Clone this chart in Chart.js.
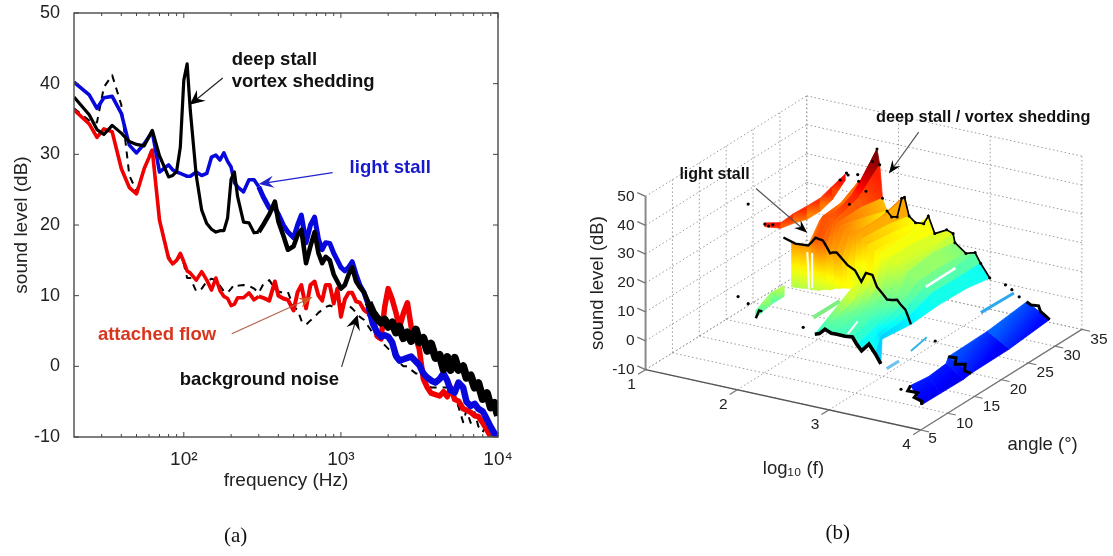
<!DOCTYPE html>
<html><head><meta charset="utf-8">
<style>html,body{margin:0;padding:0;background:#fff;width:1113px;height:556px;overflow:hidden}
canvas{position:absolute;top:0}</style>
<script src="https://cdn.jsdelivr.net/npm/chart.js@4/dist/chart.umd.js"></script>
</head><body>
<canvas id="a" width="540" height="556" style="left:0"></canvas>
<canvas id="b" width="573" height="556" style="left:540px"></canvas>
<script>
// ---------- (a) spectra ----------
const freqs=[20,25,28,31,35,40,45,50,56,63,70,80,85,90,95,100,105,110,120,130,140,150,160,170,180,190,200,210,220,240,260,280,300,320,350,380,400,430,460,500,530,560,600,640,680,720,760,800,850,900,950,1000,1060,1120,1180,1250,1320,1400,1500,1600,1700,1800,1900,2000,2120,2240,2360,2500,2650,2800,3000,3150,3350,3550,3750,4000,4250,4500,4750,5000,5300,5600,6000,6300,6700,7100,7500,8000,8500,9000,9500,10000];
const attachedFlow=[36.3,34.3,32.4,33.6,33.2,28,25.3,24.4,28,30.6,20.7,15.3,14.5,15,16,14.8,13.5,13.2,12.2,13.4,12.2,10.8,12.5,10.7,9.9,9.6,8.6,8.8,9.7,9.7,10.4,9.4,9.9,9.7,9.3,12,10,9.6,9.4,7.9,10.5,11.5,8.2,11.5,12,10,9.3,11.5,11.5,8.9,11,7,9.5,10.4,10.4,9.2,9,8,7.5,6.8,4.3,3.9,8.4,11,9.5,7.6,5.5,7.5,9,5.6,4,2.5,-1.8,-3,-3.8,-4,-4.2,-3.6,-4.3,-3,-4.7,-4.9,-6,-6.2,-6.5,-7,-7.1,-8,-9,-10,-10,-10];
const lightStall=[40.2,38.4,36.5,38,38.2,35.8,31.3,30.2,31.5,33.2,27.5,28.5,27.8,27.5,27.3,27.1,26.9,26.9,27.5,27,27.3,29.6,29.9,29.2,30.2,29,28.2,26,25.4,24.7,26.4,26.4,25.4,24,22.4,22.4,21.5,20,19,18.2,20,21.4,17.5,20,21.1,18,16.5,17.5,17.4,16,15,14,13.5,14,14.8,13,11.5,10.5,8.5,6,4.8,4.2,4.4,4.2,3.4,1.5,0.8,1,1.2,1.4,0.7,0.2,-1,-1.6,-2,-2.3,-1.8,-1,-2,-3.4,-3.7,-2.3,-3,-5,-5.6,-5.3,-6,-6.4,-7.5,-8.6,-9.5,-10];
const deepStall=[38.1,35.6,33.5,32.8,34.1,33,31.8,31.4,31.2,33.4,29.8,26.8,27,27.6,31,40.5,42.8,36.2,27,22.1,20.2,19.4,19,19.2,19.2,21,26.5,27.5,24,20.4,20.3,18.9,19,20,21.5,23.3,20.5,18.5,16.5,17,18.6,19.3,14.6,17,19,16,14.6,15.5,15,13,12,11,11.5,13,14,12,11.2,10.5,9,7.6,6.8,6.2,6.6,5.6,6.2,4.8,5.6,4,4.8,3.6,5.2,3.4,4,2.2,3.2,1.2,1.6,-0.4,1.3,-0.5,1.2,-0.5,0,-1.6,-1.3,-3,-2.4,-4.6,-3.8,-5.8,-5.2,-7];
const backgroundNoise=[36.5,34.8,34.5,39.5,41.2,37,27,24.8,28,31,21,15.5,14.8,15,15.5,14.5,12.5,12.5,10.6,11,12,12.4,12.2,11.4,10.6,10.4,11,11.6,11.4,11.5,11.4,11,10.4,11.6,12.2,11,10.6,10.4,10.5,8.4,8,6.5,5.9,6.5,7,7.6,8,8.4,8.6,8.4,8.6,8.8,8.9,8.6,8.2,7.6,7,6.6,5.6,4.7,4,3.8,3,2.5,2,1,0.5,0,0,-0.5,-1,-1,-2,-2.5,-3,-3,-3,-3,-3,-3,-4,-5.7,-7.9,-6.2,-8,-6.5,-8.5,-9.3,-8,-10,-10,-10];
const xMajor=[100,1000,10000];
const xMinor=[30,40,50,60,70,80,90,200,300,400,500,600,700,800,900,2000,3000,4000,5000,6000,7000,8000,9000];
const yTicks=[-10,0,10,20,30,40,50];
const xTickText={100:'10²',1000:'10³',10000:'10⁴'};
const labelsA=[
 {t:'deep stall',f:202,d:43.4,c:'#111',s:18.5},{t:'vortex shedding',f:202,d:40.2,c:'#111',s:18.5},
 {t:'light stall',f:1136,d:28.1,c:'#1818cc',s:18.5},{t:'attached flow',f:28.4,d:4.5,c:'#d8361c',s:18.5},
 {t:'background noise',f:94.3,d:-1.9,c:'#111',s:18.5}];
const arrowsA=[
 {f0:177,d0:40.8,f1:109,d1:37,c:'#222',hc:'#000',L:15,W:7},
 {f0:886,d0:27.4,f1:300,d1:25.8,c:'#2222cc',hc:'#2222cc',L:15,W:6},
 {f0:202,d0:4.6,f1:661,d1:9.8,c:'#b5604a',hc:'#d8561c',L:14,W:5},
 {f0:1010,d0:-0.07,f1:1277,d1:7.3,c:'#333',hc:'#000',L:15,W:7}];
// ---------- (b) surface rows: log10 f, sound level; one row per angle ----------
const row31L=[1.70,1.80,1.88,1.95,2.00,2.03,2.06,2.11,2.16,2.22,2.27,2.30,2.35,2.42,2.51,2.56,2.63,2.76,2.83,2.85,2.97,3.07,3.13,3.23];
const row31Z=[22,30.6,27.7,38.5,43.2,38,26.6,22.5,20.8,21.2,28,28.6,22.4,20.6,20.9,23.9,18.3,20.5,19.7,16.7,13.8,14.8,11.5,7.1];
const row27L=[1.78,1.84,1.90,1.95,2.00,2.03,2.06,2.11,2.16,2.22,2.27,2.30,2.35,2.42,2.51,2.56,2.63,2.76,2.83,2.85,2.97,3.07,3.13,3.21];
const row27Z=[25,28,28,31,33.5,31,28,25,24,24,26,26.5,24,22,21.5,22,19.5,19.5,19,18,14.5,14,11.5,8];
const row22L=[1.90,1.94,1.97,2.00,2.03,2.06,2.09,2.13,2.18,2.24,2.28,2.31,2.36,2.43,2.51,2.57,2.64,2.76,2.82,2.86,2.97,3.06,3.12,3.20];
const row22Z=[28,30,30,29.5,29.5,29,28.5,28,27,26.5,26,26,25,23.5,22,21.5,20,19,18.5,17,14.5,14,11.5,8];
const row17L=[2.07,2.11,2.15,2.19,2.23,2.27,2.31,2.34,2.38,2.44,2.50,2.58,2.65,2.70,2.77,2.82,2.88,2.93,2.98,3.04,3.08,3.13,3.16,3.19];
const row17Z=[26.5,28,29.8,29.6,29.4,27.5,25.5,26,26.3,24.5,22.7,21.5,18,21.4,21.2,17.4,15.5,13.8,14,14.5,13,11.7,9.5,7];
const row13L=[2.30,2.34,2.38,2.42,2.46,2.50,2.54,2.60,2.66,2.70,2.74,2.76,2.78,2.80,2.84,2.88,2.92,2.96,3.00,3.04,3.06,3.08,3.10,3.11];
const row13Z=[17.8,17.7,18,18,18.6,19,19,20,20.5,20.8,21,21.2,21.4,17,15,13.5,13,12.5,12,10,9,8,7,6];
const row8L=[2.67,2.72,2.78,2.85,2.91,3.00,3.08,3.13,3.18,3.26,3.33,3.39];
const row8Z=[10.4,11,12.9,12,12.1,12,12.3,10,8.2,11.1,8.2,5.2];
const flapTopL=[1.89,1.98,2.07], flapTopZ=[26.3,26.3,26.5];
const flapFootL=[2.12,2.22,2.30], flapFootZ=[17.2,17.5,17.8];
const light17HeadL=[1.80,1.93,2.07], light17HeadZ=[27.4,26.2,26.5];
const redUpperA=[12,15,17.3,19.9,22.3,24.6,26.9], redUpperZ=[38.9,35.5,35.9,35.6,35.5,37,38.4];
const redLowerZ=[37.6,33.6,32.6,31,31,32.4,36.2];
const redStripL=1.89;
const greenA=[5.1,7.9,10.3], greenUpperZ=[18.7,21.6,21.2], greenLowerZ=[16.3,17.5,17.5];
const greenStripL=2.197;
const greenEnd=[[2.197,5.1,16],[2.197,5.7,18],[2.197,6.3,17]];
const blueUpperA=[7.4,10.7,14,14.4,21.7,29], blueUpperZ=[0.9,0.1,0.8,2.7,3.1,4.8];
const blueLowerA=[5.2,8.7,13,14.4,21.5,29], blueLowerZ=[-1.5,-1.6,-1.7,-1.3,-1.1,0.4];
const blueUpperL=3.75, blueLowerL=4;
const blueEdges=[
 [[3.75,7.4,0.9],[3.8,6,1],[3.85,7,-0.5],[3.9,5.5,0],[3.95,6,-1.5],[4,5.2,-1.5]],
 [[3.75,14.4,2.7],[3.8,15,2],[3.85,14,1.3],[3.9,15,0.5],[3.95,14,-0.3],[4,14.4,-1.3]],
 [[3.75,29,4.8],[3.8,29,4],[3.85,29.5,3.5],[3.9,29,2.5],[3.95,29,1.5],[4,29,0.4]]];
const wisps=[
 {p:[[3.49,24.9,4],[3.54,30.2,5]],c:'#2fa8ee',w:3},
 {p:[[3.46,12.4,5],[3.41,16.2,5]],c:'#35b4e8',w:2},
 {p:[[3.53,6.7,6],[3.53,9,6]],c:'#6cc4ee',w:3},
 {p:[[2.8,5.5,20],[2.8,10.4,20]],c:'#7dee80',w:4}];
const gaps=[
 [[3.06,22,13.3],[3.06,27.5,13.4]],
 [[2.09,16.5,25],[2.11,16.5,12]],
 [[2.143,16.5,25],[2.143,16.5,12.9]],
 [[2.91,10,9.8],[3.02,10,15]]];
const strayDots=[[1.24,20,31.6],[1.13,20,-1.2],[1.24,20,-2.9],[1.84,20,-6.9],[3.28,20,-1.6],[3.61,8,-2.1],[1.79,31,32.9],[3.43,30.5,6.7],[3.58,30.5,3.6],[3.5,30.5,5.5],[1.89,12,38.5],[1.89,13.5,36.5],[1.89,12.7,37],[1.89,26,37.5],[1.89,27.2,38.5],[1.89,27.5,37.5]];
const zTicks=[-10,0,10,20,30,40,50], lTicks=[1,2,3,4], aTicks=[5,10,15,20,25,30,35];
const labelsB=[
 {t:'light stall',p:[0.49,20,36.5],s:16,b:1,al:'left'},
 {t:'deep stall / vortex shedding',p:[1.99,31,54.1],s:16.3,b:1,al:'left'},
 {t:'sound level (dB)',p:[0.484,5,16.4],s:18.5,rot:1,al:'center'},
 {t:'log₁₀ (f)',p:[2.613,5,-33.2],s:18.5,al:'center'},
 {t:'angle (°)',p:[5.33,5,-5.8],s:18.5,al:'center'}];
const arrowsB=[
 {p0:[1.325,20,37.6],p1:[1.884,20,26.2]},
 {p0:[2.455,31,52.2],p1:[2.13,31,35.6]}];

// ---------- helpers ----------
const sans='"Liberation Sans", Arial, sans-serif', serif='"Liberation Serif", serif';
function arrow(ctx,x0,y0,x1,y1,c,hc,L,W){
  const a=Math.atan2(y1-y0,x1-x0),cs=Math.cos(a),sn=Math.sin(a);
  ctx.strokeStyle=c;ctx.lineWidth=1.2;ctx.beginPath();ctx.moveTo(x0,y0);ctx.lineTo(x1-cs*L*0.6,y1-sn*L*0.6);ctx.stroke();
  ctx.fillStyle=hc;ctx.beginPath();ctx.moveTo(x1,y1);
  ctx.lineTo(x1-cs*L-sn*W,y1-sn*L+cs*W);ctx.lineTo(x1-cs*L*0.65,y1-sn*L*0.65);ctx.lineTo(x1-cs*L+sn*W,y1-sn*L-cs*W);ctx.closePath();ctx.fill();
}
const clim=[-10,40];
function jet(z){
  const t=Math.max(0,Math.min(1,(z-clim[0])/(clim[1]-clim[0])));
  const ch=v=>Math.round(255*Math.max(0,Math.min(1,v)));
  return `rgb(${ch(1.5-Math.abs(4*t-3))},${ch(1.5-Math.abs(4*t-2))},${ch(1.5-Math.abs(4*t-1))})`;
}

// ---------- chart (a) ----------
const frameA={id:'frameA',afterDatasetsDraw(ch){
  const c=ch.ctx,x=ch.scales.x,y=ch.scales.y,A=ch.chartArea;
  c.save();c.strokeStyle='#555';c.lineWidth=1.5;c.strokeRect(A.left,A.top,A.width,A.height);
  c.lineWidth=1;c.strokeStyle='#444';
  const vt=(v,l)=>{const p=x.getPixelForValue(v);c.beginPath();c.moveTo(p,A.bottom);c.lineTo(p,A.bottom-l);c.moveTo(p,A.top);c.lineTo(p,A.top+l);c.stroke();};
  xMajor.forEach(v=>vt(v,5));xMinor.forEach(v=>vt(v,3));
  yTicks.forEach(v=>{const p=y.getPixelForValue(v);c.beginPath();c.moveTo(A.left,p);c.lineTo(A.left+5,p);c.moveTo(A.right,p);c.lineTo(A.right-5,p);c.stroke();});
  arrowsA.forEach(r=>arrow(c,x.getPixelForValue(r.f0),y.getPixelForValue(r.d0),x.getPixelForValue(r.f1),y.getPixelForValue(r.d1),r.c,r.hc,r.L,r.W));
  c.textBaseline='middle';c.textAlign='left';
  labelsA.forEach(l=>{c.font=`bold ${l.s}px ${sans}`;c.fillStyle=l.c;c.fillText(l.t,x.getPixelForValue(l.f),y.getPixelForValue(l.d));});
  c.font=`21px ${serif}`;c.fillStyle='#111';c.textAlign='center';
  c.fillText('(a)',x.getPixelForValue(214),y.getPixelForValue(-24.1));
  c.restore();
}};
const zip=v=>freqs.map((f,i)=>({x:f,y:v[i]}));
const widths=(low,mid,high)=>({borderWidth:s=>{const f=s.p0.parsed.x;return f<300?low:(f<1500?mid:high);}});
new Chart(document.getElementById('a'),{type:'scatter',plugins:[frameA],data:{datasets:[
  {label:'deep stall',data:zip(deepStall),borderColor:'#000',borderWidth:3.2,segment:widths(3.2,4.6,8)},
  {label:'light stall',data:zip(lightStall),borderColor:'#0808dc',borderWidth:3.6,segment:widths(3.6,5,6.5)},
  {label:'attached flow',data:zip(attachedFlow),borderColor:'#f00000',borderWidth:3.6,segment:widths(3.6,4,5.5)},
  {label:'background noise',data:zip(backgroundNoise),borderColor:'#000',borderWidth:2,borderDash:[7,6]}
].map(d=>Object.assign(d,{showLine:true,pointRadius:0,tension:0,borderJoinStyle:'round'}))},
options:{responsive:false,animation:false,layout:{padding:{top:13,right:42,left:0,bottom:64}},
 plugins:{legend:{display:false},tooltip:{enabled:false}},
 scales:{
  x:{type:'logarithmic',min:20,max:10000,grid:{display:false},border:{display:false},
     afterBuildTicks:s=>{s.ticks=xMajor.map(v=>({value:v}));},
     ticks:{autoSkip:false,maxRotation:0,padding:3,color:'#222',font:{family:sans,size:19},callback:v=>xTickText[v]||''},
     title:{display:true,text:'frequency (Hz)',color:'#222',font:{family:sans,size:19},padding:{top:0,bottom:0}},
     afterFit:s=>{s.height=55;s.paddingLeft=0;s.paddingRight=0;}},
  y:{min:-10,max:50,grid:{display:false},border:{display:false},
     ticks:{stepSize:10,padding:6,color:'#222',font:{family:sans,size:18}},
     title:{display:true,text:'sound level (dB)',color:'#222',font:{family:sans,size:19},padding:{top:10,bottom:0}},
     afterFit:s=>{s.width=74;s.paddingTop=0;s.paddingBottom=0;}}
 }}});

// ---------- chart (b) ----------
const K={lx:93,ax:5.45,ly:20.4,ay:3.4,z:2.93};
function P(l,a,z){return {x:K.lx*(l-1)+K.ax*(a-5),y:-(K.ly*(l-1)-K.ay*(a-5))+K.z*(z+10)};}
const D=[]; // listed bottom to top
const line=(pts,c,w,extra)=>D.push(Object.assign({data:pts.map(p=>P(p[0],p[1],p[2])),borderColor:c,borderWidth:w,pointRadius:0,showLine:true,tension:0},extra||{}));
const GRID='#9a9a9a',dots={borderDash:[1.5,2.5]};
// walls and floor
zTicks.forEach(z=>{line([[1,5,z],[1,35,z]],GRID,1,dots);line([[1,35,z],[4,35,z]],GRID,1,dots);});
aTicks.forEach(a=>{line([[1,a,-10],[1,a,50]],GRID,1,dots);line([[1,a,-10],[4,a,-10]],GRID,1,dots);});
lTicks.forEach(l=>{line([[l,35,-10],[l,35,50]],GRID,1,dots);line([[l,5,-10],[l,35,-10]],GRID,1,dots);});
// surface cells; tone nudges only the colour lookup of a detached strip
function cell(pa,pb,pc,pd,tone){
  const mAz=(pa[2]+pb[2])/2,mBz=(pc[2]+pd[2])/2,dz=tone||0;
  const vA=P((pa[0]+pb[0])/2,(pa[1]+pb[1])/2,mAz),vB=P((pc[0]+pd[0])/2,(pc[1]+pd[1])/2,mBz);
  const paint=ctx=>{
    const ch=ctx.chart,x=ch.scales.x,y=ch.scales.y;
    const x0=x.getPixelForValue(vA.x),y0=y.getPixelForValue(vA.y),x1=x.getPixelForValue(vB.x),y1=y.getPixelForValue(vB.y);
    if(![x0,y0,x1,y1].every(Number.isFinite))return jet(mAz+dz);
    const g=ch.ctx.createLinearGradient(x0,y0,x1,y1);
    for(let i=0;i<=6;i++){g.addColorStop(i/6,jet(mAz+dz+(mBz-mAz)*i/6));}
    return g;
  };
  D.push({data:[pa,pb,pd,pc,pa].map(p=>P(p[0],p[1],p[2])),showLine:true,tension:0,pointRadius:0,fill:'shape',backgroundColor:paint,borderColor:paint,borderWidth:0.8});
}
function strip(aA,LA,ZA,aB,LB,ZB){
  for(let i=0;i<LA.length-1;i++){
    cell([LA[i],aA,ZA[i]],[LA[i+1],aA,ZA[i+1]],[LB[i],aB,ZB[i]],[LB[i+1],aB,ZB[i+1]]);
  }
}
// red ridge strip
for(let i=0;i<redUpperA.length-1;i++)cell([redStripL,redUpperA[i],redUpperZ[i]],[redStripL,redUpperA[i+1],redUpperZ[i+1]],[redStripL,redUpperA[i],redLowerZ[i]],[redStripL,redUpperA[i+1],redLowerZ[i+1]],-4);
strip(31,row31L,row31Z,27,row27L,row27Z);
strip(27,row27L,row27Z,22,row22L,row22Z);
strip(22,row22L,row22Z,17,row17L,row17Z);
// a=8 edge against a=13 (a=8 is the shorter row, so it is walked from a=13's index 12)
for(let i=0;i<row8L.length-1;i++){const j=i+12;cell([row13L[j],13,row13Z[j]],[row13L[j+1],13,row13Z[j+1]],[row8L[i],8,row8Z[i]],[row8L[i+1],8,row8Z[i+1]]);}
strip(17,row17L,row17Z,13,row13L,row13Z);
for(let i=0;i<flapTopL.length-1;i++)cell([flapTopL[i],17,flapTopZ[i]],[flapTopL[i+1],17,flapTopZ[i+1]],[flapFootL[i],13,flapFootZ[i]],[flapFootL[i+1],13,flapFootZ[i+1]]);
for(let i=0;i<greenA.length-1;i++)cell([greenStripL,greenA[i],greenUpperZ[i]],[greenStripL,greenA[i+1],greenUpperZ[i+1]],[greenStripL,greenA[i],greenLowerZ[i]],[greenStripL,greenA[i+1],greenLowerZ[i+1]],-4);
for(let i=0;i<blueUpperA.length-1;i++)cell([blueUpperL,blueUpperA[i],blueUpperZ[i]],[blueUpperL,blueUpperA[i+1],blueUpperZ[i+1]],[blueLowerL,blueLowerA[i],blueLowerZ[i]],[blueLowerL,blueLowerA[i+1],blueLowerZ[i+1]],-3);
wisps.forEach(w=>line(w.p,w.c,w.w));
gaps.forEach((g,i)=>line(g,'#fff',i===0?2.5:2));
// black spectrum lines
line(row31L.slice(7).map((l,i)=>[l,31,row31Z[i+7]]),'#000',1.7);
D.push({data:row31L.map((l,i)=>P(l,31,row31Z[i])),showLine:false,pointRadius:1.5,pointBackgroundColor:'#000',pointBorderWidth:0});
line(light17HeadL.map((l,i)=>[l,17,light17HeadZ[i]]).concat(row17L.map((l,i)=>[l,17,row17Z[i]])),'#000',2.4);
line(row8L.map((l,i)=>[l,8,row8Z[i]]),'#000',3.6);
blueEdges.forEach(e=>line(e,'#000',3));
line(greenEnd,'#000',2.5);
D.push({data:strayDots.map(p=>P(p[0],p[1],p[2])),showLine:false,pointRadius:1.6,pointBackgroundColor:'#000',pointBorderWidth:0});
// axes
const AX='#777';
line([[1,5,-10],[1,5,50]],'#8a8a8a',2);
line([[1,5,-10],[4,5,-10]],'#555',1.4);
line([[4,5,-10],[4,35,-10]],'#777',1.4);
zTicks.forEach(z=>line([[1,5,z],[0.91,5,z+0.65]],AX,1.4));
lTicks.forEach(l=>line([[l,5,-10],[l,3.6,-10]],AX,1.2));
aTicks.forEach(a=>line([[4,a,-10],[4.09,a,-10]],AX,1.2));

const overlayB={id:'overlayB',afterDatasetsDraw(ch){
  const c=ch.ctx,x=ch.scales.x,y=ch.scales.y;
  const X=q=>{const v=P(q[0],q[1],q[2]);return [x.getPixelForValue(v.x),y.getPixelForValue(v.y)];};
  c.save();c.textBaseline='middle';c.fillStyle='#222';c.font=`15.5px ${sans}`;
  c.textAlign='right';zTicks.forEach(z=>{const p=X([1,5,z]);c.fillText(String(z),p[0]-11,p[1]);});
  c.textAlign='center';
  lTicks.forEach(l=>{const p=X([l,5,-10]);c.fillText(String(l),p[0]-14,p[1]+15);});
  aTicks.forEach((a,i)=>{const p=X([4,a,-10]);c.fillText(String(a),p[0]+(i?17:12),p[1]+(i?10:9));});
  labelsB.forEach(l=>{const p=X(l.p);c.save();c.font=`${l.b?'bold ':''}${l.s}px ${sans}`;c.textAlign=l.al;c.fillStyle=l.b?'#111':'#222';c.translate(p[0],p[1]);if(l.rot)c.rotate(-Math.PI/2);c.fillText(l.t,0,0);c.restore();});
  arrowsB.forEach(r=>{const a=X(r.p0),b=X(r.p1);arrow(c,a[0],a[1],b[0],b[1],'#555','#000',13,5);});
  const q=X([3.097,5,-52]);c.font=`21px ${serif}`;c.fillStyle='#111';c.textAlign='center';c.fillText('(b)',q[0],q[1]);
  c.restore();
}};
new Chart(document.getElementById('b'),{type:'scatter',plugins:[overlayB],data:{datasets:D.reverse()},
 options:{responsive:false,animation:false,layout:{padding:0},
  plugins:{legend:{display:false},tooltip:{enabled:false}},
  scales:{x:{type:'linear',display:false,min:-103,max:470},y:{type:'linear',display:false,min:-185,max:371}}}});
</script>
</body></html>
